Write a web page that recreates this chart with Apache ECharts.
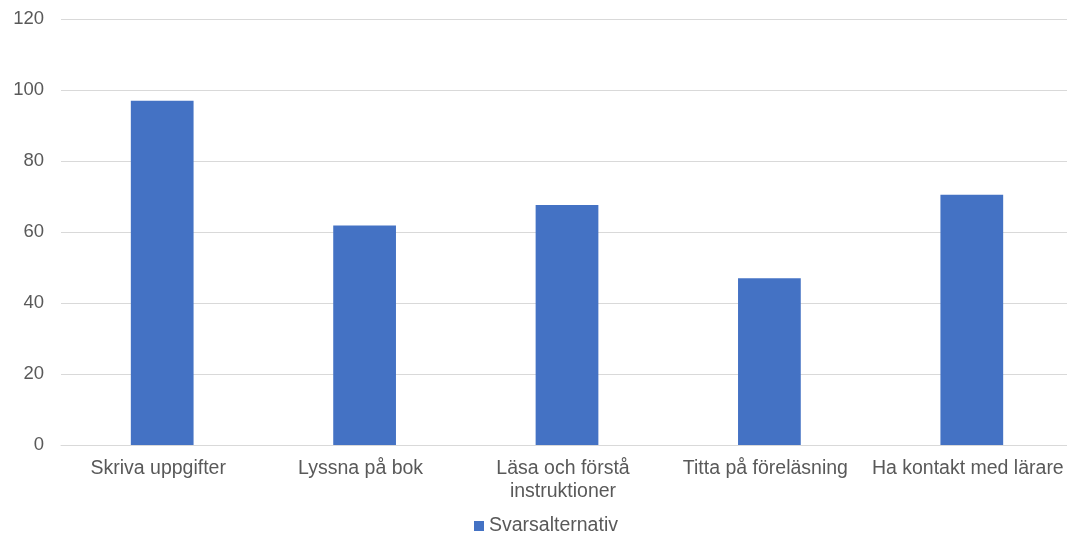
<!DOCTYPE html>
<html><head><meta charset="utf-8">
<script src="https://cdn.jsdelivr.net/npm/echarts@6/dist/echarts.min.js"></script>
<style>html,body{margin:0;padding:0;background:#fff;overflow:hidden;width:1067px;height:535px}#c{width:1085px;height:535px}</style>
</head><body><div id="c"></div>
<script>
const categories = ['Skriva uppgifter', 'Lyssna på bok', 'Läsa och förstå\ninstruktioner', 'Titta på föreläsning', 'Ha kontakt med lärare'];
const seriesName = 'Svarsalternativ';
const values = [97, 61.8, 67.6, 47, 70.5];
const yTicks = { min: 0, max: 120, interval: 20 };

const chart = echarts.init(document.getElementById('c'));
chart.setOption({
  animation: false,
  textStyle: { fontFamily: 'Liberation Sans, Arial, sans-serif' },
  grid: { left: 61, width: 1012, top: 19, height: 426 },
  legend: {
    top: 511, left: 469,
    itemWidth: 10, itemHeight: 10, itemGap: 6,
    icon: 'rect',
    textStyle: { color: '#595959', fontSize: 19.5, fontFamily: 'Liberation Sans, Arial, sans-serif' },
    data: [seriesName]
  },
  xAxis: {
    type: 'category', data: categories,
    axisLine: { lineStyle: { color: '#d9d9d9', width: 1 } },
    axisTick: { show: false },
    axisLabel: { color: '#595959', fontSize: 19.5, margin: 12, lineHeight: 23, interval: 0, padding: [0, 8, 0, 0] }
  },
  yAxis: {
    type: 'value', min: yTicks.min, max: yTicks.max, interval: yTicks.interval,
    axisLine: { show: false }, axisTick: { show: false },
    splitLine: { lineStyle: { color: '#d9d9d9', width: 1 } },
    axisLabel: { color: '#595959', fontSize: 18.5, margin: 17 }
  },
  series: [{
    name: seriesName, type: 'bar', data: values,
    barWidth: '31%',
    itemStyle: { color: '#4472c4' }
  }]
});
</script></body></html>
